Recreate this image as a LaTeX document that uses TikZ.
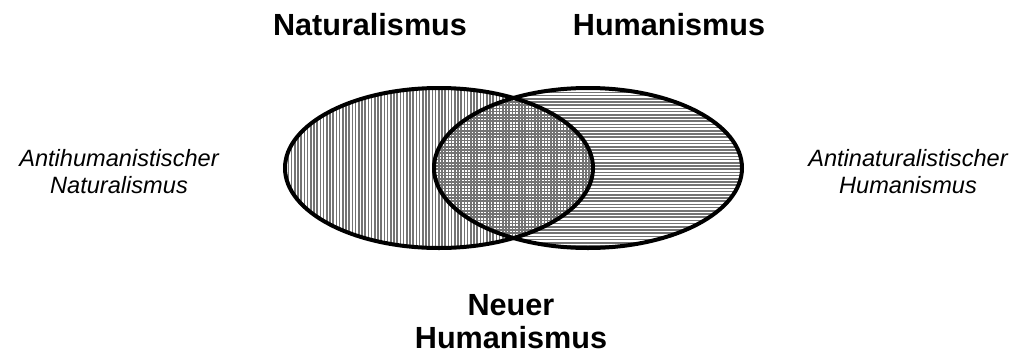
\documentclass[tikz,border=0pt]{standalone}
\usepackage{fontspec}
\setmainfont{Liberation Sans}
\begin{document}
\begin{tikzpicture}[x=1pt,y=-1pt,
  title/.style={font=\bfseries\fontsize{30.6}{33}\selectfont, inner sep=0pt, align=center},
  side/.style={font=\itshape\fontsize{23.6}{27}\selectfont, inner sep=0pt, align=center},
  setline/.style={line width=4pt, draw=black},
  hatch/.style={draw=black!55, line width=1.5pt}]
\useasboundingbox (0,0) rectangle (1015,354);
% hatching
\begin{scope}
  \clip (439,168) ellipse [x radius=154, y radius=80];
  \foreach \i in {0,...,100} {\draw[hatch] (282+3.2*\i,80) -- (282+3.2*\i,256);}
\end{scope}
\begin{scope}
  \clip (588,168) ellipse [x radius=154, y radius=80];
  \foreach \i in {0,...,52} {\draw[hatch] (430,86+3.2*\i) -- (746,86+3.2*\i);}
\end{scope}
\draw[setline] (439,168) ellipse [x radius=154, y radius=80];
\draw[setline] (588,168) ellipse [x radius=154, y radius=80];
% labels
\node[title, anchor=base] (nat) at (370,35) {Naturalismus};
\node[title, anchor=base] (hum) at (669,35) {Humanismus};
\node[title, anchor=base] (neu) at (511,348) {Neuer\\Humanismus};
\node[side, anchor=base] (anh) at (119,193) {Antihumanistischer\\Naturalismus};
\node[side, anchor=base] (ann) at (908,193) {Antinaturalistischer\\Humanismus};
\end{tikzpicture}
\end{document}
